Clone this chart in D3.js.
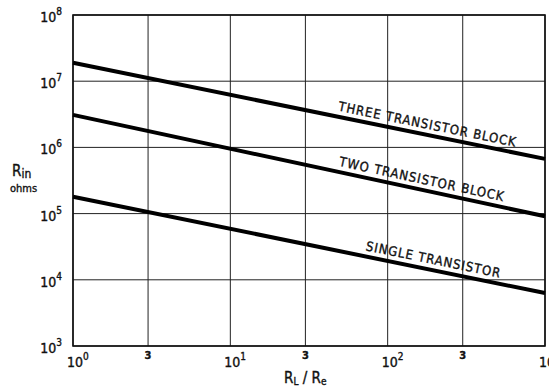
<!DOCTYPE html>
<html>
<head>
<meta charset="utf-8">
<script src="https://cdn.jsdelivr.net/npm/d3@7"></script>
<style>
  body { margin: 0; background: #fff; }
  svg { display: block; }
  text { font-family: "Liberation Sans Narrow", "DejaVu Sans Condensed", sans-serif; fill: #111; stroke: #111; stroke-width: 0.35px; }
</style>
</head>
<body>
<script>
// data (log-log, straight lines)
let xEnds = [1, 1000],
  threeBlock = [1.9e7, 6.7e5],
  twoBlock = [3.1e6, 9.1e4],
  single = [1.8e5, 6.3e3],
  seriesNames = ['THREE TRANSISTOR BLOCK', 'TWO TRANSISTOR BLOCK', 'SINGLE TRANSISTOR'],
  labelAt = [174, 160, 190],
  xGrid = [1, 3, 10, 30, 100, 300, 1000],
  xThrees = [3, 30, 300],
  xDecades = [0, 1, 2, 3],
  yDecades = [3, 4, 5, 6, 7, 8];

let w = 549,
  h = 389,
  mLeft = 73, mRight = 545, mTop = 15, mBottom = 346;

let x = d3.scaleLog().domain([1, 1000]).range([mLeft, mRight]);
let y = d3.scaleLog().domain([1e3, 1e8]).range([mBottom, mTop]);

let svg = d3.select('body')
  .append('svg')
  .attr('width', w)
  .attr('height', h);

// grid
svg.append('g')
  .selectAll('line')
  .data(xGrid)
  .enter()
  .append('line')
  .attr('x1', d => x(d))
  .attr('x2', d => x(d))
  .attr('y1', mTop)
  .attr('y2', mBottom)
  .attr('stroke', '#222')
  .attr('stroke-width', 1);

svg.append('g')
  .selectAll('line')
  .data(yDecades)
  .enter()
  .append('line')
  .attr('x1', mLeft)
  .attr('x2', mRight)
  .attr('y1', d => y(Math.pow(10, d)))
  .attr('y2', d => y(Math.pow(10, d)))
  .attr('stroke', '#222')
  .attr('stroke-width', 1);

svg.append('rect')
  .attr('x', mLeft)
  .attr('y', mTop)
  .attr('width', mRight - mLeft)
  .attr('height', mBottom - mTop)
  .attr('fill', 'none')
  .attr('stroke', '#111')
  .attr('stroke-width', 1.6);

// lines
let series = [threeBlock, twoBlock, single];
let line = d3.line()
  .x((d, i) => x(xEnds[i]))
  .y(d => y(d));

svg.append('g')
  .selectAll('path')
  .data(series)
  .enter()
  .append('path')
  .attr('d', d => line(d))
  .attr('fill', 'none')
  .attr('stroke', '#000')
  .attr('stroke-width', 4);

// labels along lines
series.forEach((s, i) => {
  let k = Math.log(s[1] / s[0]) / Math.log(xEnds[1] / xEnds[0]);
  let vy = s[0] * Math.pow(labelAt[i] / xEnds[0], k);
  let px = x(labelAt[i]), py = y(vy);
  let ang = Math.atan2(y(s[1]) - y(s[0]), x(xEnds[1]) - x(xEnds[0])) * 180 / Math.PI;
  svg.append('text')
    .attr('transform', 'translate(' + px + ',' + py + ') rotate(' + ang + ')')
    .attr('y', -6)
    .attr('text-anchor', 'middle')
    .attr('font-size', '13px')
    .attr('letter-spacing', '1px')
    .text(seriesNames[i]);
});

// y tick labels
let yl = svg.append('g')
  .selectAll('text')
  .data(yDecades)
  .enter()
  .append('text')
  .attr('x', mLeft - 11)
  .attr('y', d => y(Math.pow(10, d)) + 7)
  .attr('text-anchor', 'end')
  .attr('font-size', '14px');
yl.append('tspan').text('10');
yl.append('tspan')
  .attr('dy', -7)
  .attr('font-size', '10px')
  .text(d => d);

// x tick labels
let xl = svg.append('g')
  .selectAll('text')
  .data(xDecades)
  .enter()
  .append('text')
  .attr('x', d => x(Math.pow(10, d)) - 6)
  .attr('y', 367)
  .attr('font-size', '14px');
xl.append('tspan').text('10');
xl.append('tspan')
  .attr('dy', -7)
  .attr('font-size', '10px')
  .text(d => d === 3 ? '' : d);

svg.append('g')
  .selectAll('text')
  .data(xThrees)
  .enter()
  .append('text')
  .attr('x', d => x(d))
  .attr('y', 359)
  .attr('text-anchor', 'middle')
  .attr('font-size', '11px')
  .attr('font-weight', 'bold')
  .text('3');

// axis titles
let yt = svg.append('text')
  .attr('x', 12)
  .attr('y', 176)
  .attr('font-size', '15px');
yt.append('tspan').text('R');
yt.append('tspan').attr('font-size', '12px').attr('dy', 2).text('in');

svg.append('text')
  .attr('x', 10)
  .attr('y', 192)
  .attr('font-size', '11px')
  .text('ohms');

let xt = svg.append('text')
  .attr('x', 284)
  .attr('y', 383)
  .attr('font-size', '15px');
xt.append('tspan').text('R');
xt.append('tspan').attr('font-size', '10px').attr('dy', 2).text('L');
xt.append('tspan').attr('dy', -2).text(' / R');
xt.append('tspan').attr('font-size', '10px').attr('dy', 2).text('e');
</script>
</body>
</html>
